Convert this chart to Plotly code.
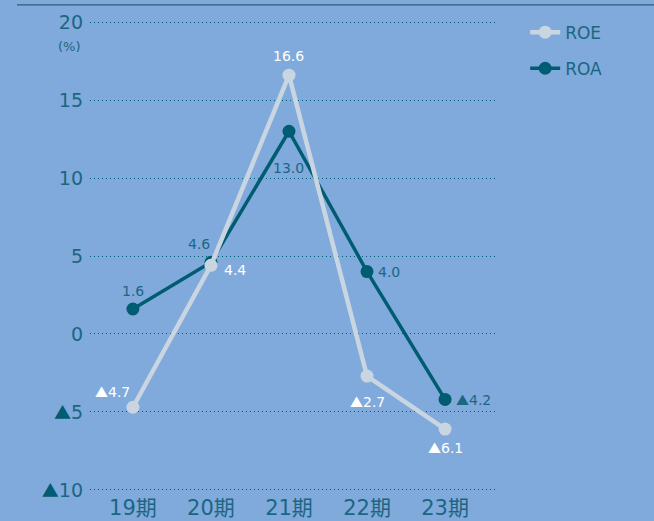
import plotly.graph_objects as go

# Fiscal periods and return ratios (%)
periods = ["19期", "20期", "21期", "22期", "23期"]
roe = [-4.7, 4.4, 16.6, -2.7, -6.1]
roa = [1.6, 4.6, 13.0, 4.0, -4.2]
y_ticks = [20, 15, 10, 5, 0, -5, -10]

BG = "#80AADB"
TEAL = "#005C72"
TEXT = "#1B6683"
LIGHT = "#C9D5E1"
FONT = "DejaVu Sans, Noto Sans CJK JP"
TRI = "font-family:'Noto Sans CJK JP'"


def fmt(v):
    # negative values are written with a triangle mark
    if v < 0:
        return f"<span style=\"{TRI};font-size:13px\">▲</span>{abs(v):.1f}"
    return f"{v:.1f}"


def tick_text(v):
    if v < 0:
        return f"<span style=\"{TRI};font-size:17px;color:{TEAL}\">▲</span>{abs(v)}"
    return str(v)


xs = list(range(len(periods)))

fig = go.Figure()
fig.add_trace(go.Scatter(
    x=xs, y=roa, name="ROA", mode="lines+markers",
    line=dict(color=TEAL, width=3.5),
    marker=dict(color=TEAL, size=13),
    legendgroup="b", legendrank=2,
))
fig.add_trace(go.Scatter(
    x=xs, y=roe, name="ROE", mode="lines+markers",
    line=dict(color=LIGHT, width=4.5),
    marker=dict(color=LIGHT, size=13),
    legendgroup="a", legendrank=1,
))

# value labels: (x shift, y shift) per point
roe_shift = [(-20, 16), (24, -5), (0, 19), (0, -25), (0, -18)]
roa_shift = [(0, 18), (-12, 18), (0, -37), (22, 0), (28, 0)]
for i, v in enumerate(roe):
    dx, dy = roe_shift[i]
    fig.add_annotation(x=i, y=v, text=fmt(v), showarrow=False, xshift=dx, yshift=dy,
                       font=dict(family=FONT, size=14, color="white"))
for i, v in enumerate(roa):
    dx, dy = roa_shift[i]
    fig.add_annotation(x=i, y=v, text=fmt(v), showarrow=False, xshift=dx, yshift=dy,
                       font=dict(family=FONT, size=14, color=TEXT))

# percent unit under the top tick
fig.add_annotation(x=0, xref="paper", xanchor="right", xshift=-7, y=18.45, yref="y",
                   text="(%)", showarrow=False,
                   font=dict(family=FONT, size=13, color=TEXT))

# rule across the top
fig.add_shape(type="line", xref="paper", yref="paper",
              x0=-73 / 405, x1=564 / 405, y0=1.03, y1=1.03,
              line=dict(color="#2A5F7A", width=1.2))

fig.update_layout(
    width=654, height=521,
    paper_bgcolor=BG, plot_bgcolor=BG,
    margin=dict(l=90, r=159, t=19, b=28, autoexpand=False),
    font=dict(family=FONT, color=TEXT),
    showlegend=True,
    legend=dict(xref="container", yref="container", x=0.803, y=0.972,
                xanchor="left", yanchor="top",
                font=dict(family=FONT, size=17, color=TEXT),
                bgcolor="rgba(0,0,0,0)", tracegroupgap=11, itemwidth=30),
    xaxis=dict(
        range=[-0.55, 4.64], tickvals=xs, ticktext=periods,
        showgrid=False, zeroline=False, showline=False, ticks="",
        tickfont=dict(family=FONT, size=21, color=TEXT),
        automargin=False,
    ),
    yaxis=dict(
        range=[-10.2, 20.2], tickvals=y_ticks, ticktext=[tick_text(v) for v in y_ticks],
        showgrid=True, gridcolor=TEAL, griddash="1px,3px", gridwidth=1,
        zeroline=False, showline=False, ticks="", ticklabelstandoff=6,
        tickfont=dict(family=FONT, size=19, color=TEXT),
        automargin=False,
    ),
)

fig.write_html("out.html")
